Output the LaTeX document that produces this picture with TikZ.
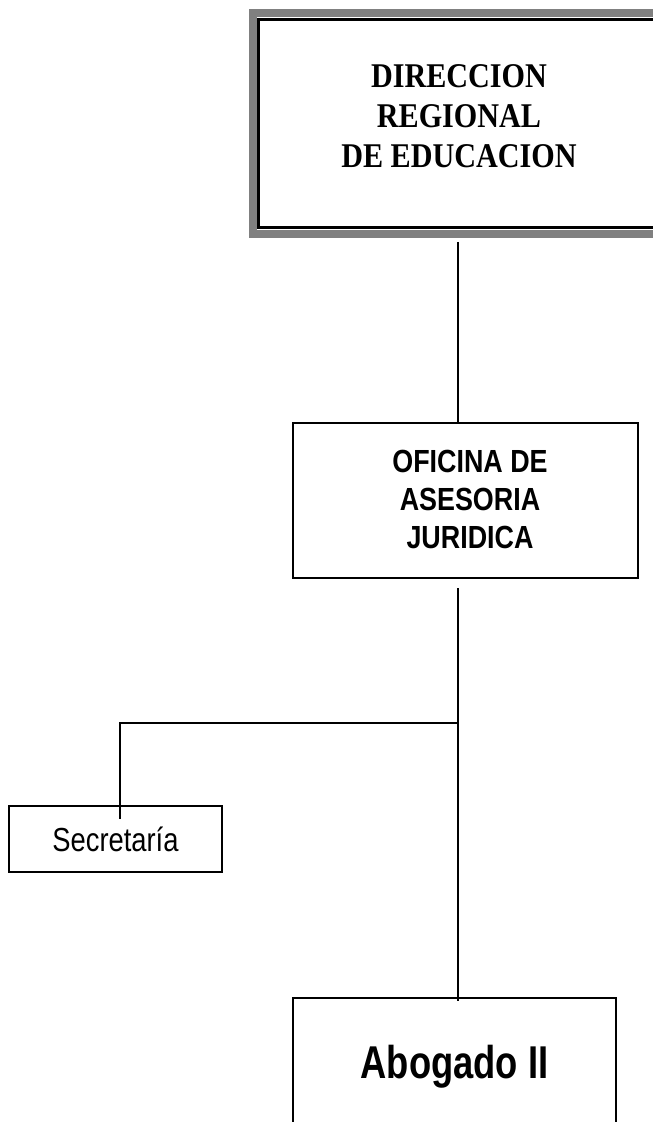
\documentclass[tikz,border=0pt]{standalone}
\usepackage{fontspec}
\usetikzlibrary{calc}
\newfontfamily\dirfont[FakeStretch=0.87]{Liberation Serif}
\newfontfamily\ofifont[FakeStretch=0.84]{Liberation Sans}
\newfontfamily\abofont[FakeStretch=0.79]{Liberation Sans}
\newfontfamily\secfont[FakeStretch=0.82]{Liberation Sans}
\begin{document}
\begin{tikzpicture}[x=0.75pt,y=-0.75pt,
  boxline/.style={draw=black, line width=1.8pt, inner sep=0pt, fill=white, align=center},
  conn/.style={draw=black, line width=1.5pt},
  grayframe/.style={draw=black!50, line width=6pt},
  txt/.style={inner sep=0pt, align=center}]
\clip (0,0) rectangle (653,1122);
\fill[white] (0,0) rectangle (653,1122);
% top box
\node[draw=black, line width=2.2pt, inner sep=0pt, minimum width=300.75pt, minimum height=156pt] (dir) at (459,123.5) {};
\draw[grayframe] ($(dir.north west)+(-4.5,-5.5)$) rectangle ($(dir.south east)+(4.5,5.5)$);
\node[txt, font=\dirfont\bfseries\fontsize{26}{30}\selectfont] (dirtext) at (459,116.5) {DIRECCION\\REGIONAL\\DE EDUCACION};
% middle box
\node[boxline, minimum width=258.75pt, minimum height=116.25pt] (mid) at (465.5,500.5) {};
\node[txt, font=\ofifont\bfseries\fontsize{24}{28.5}\selectfont] (midtext) at (470,499.5) {OFICINA DE\\ASESORIA\\JURIDICA};
% secretaria
\node[boxline, minimum width=159.75pt, minimum height=49.5pt, font=\secfont\fontsize{25}{30}\selectfont] (sec) at (115.5,839) {Secretaría};
% abogado
\node[boxline, minimum width=242.25pt, minimum height=102.75pt, font=\abofont\bfseries\fontsize{34.5}{40}\selectfont] (abo) at (454.5,1066.5) {Abogado II};
% connectors
\coordinate (c1) at ($(dir.south)+(-1,13)$);
\draw[conn] (c1) -- (c1 |- mid.north);
\coordinate (m1) at ($(mid.south)+(-7.5,9)$);
\draw[conn] (m1) -- ($(m1 |- abo.north)+(0,4)$);
\coordinate (jn) at (m1 |- 0,723);
\draw[conn] (jn) -| ($(sec.north)+(4.5,14)$);
\end{tikzpicture}
\end{document}
